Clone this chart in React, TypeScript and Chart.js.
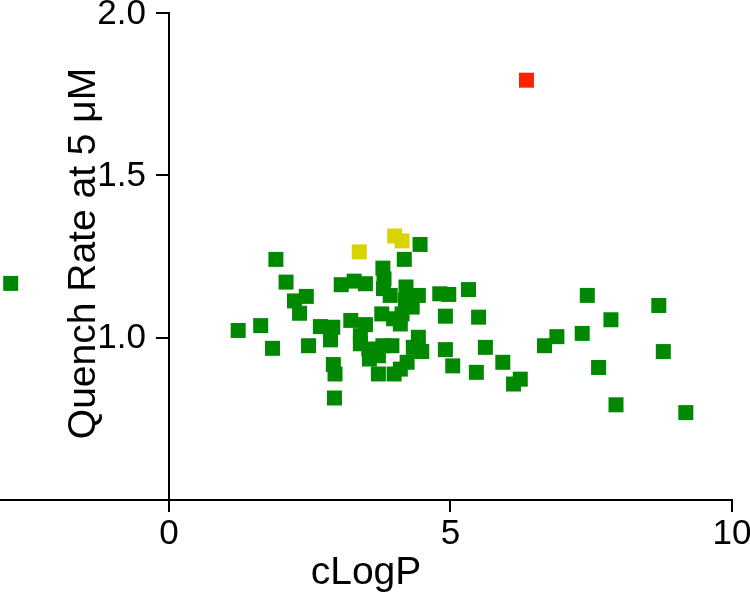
import React, { useEffect, useRef } from "react";
import { Chart, registerables } from "chart.js";

Chart.register(...registerables);

const greenX = [-2.81, 1.23, 1.63, 1.84, 1.9, 2.08, 2.23, 2.32, 2.44, 2.48, 2.69, 2.87, 2.91, 2.92, 2.95, 2.94, 3.06, 3.29, 3.49, 3.23, 3.49, 3.4, 3.4, 3.55, 3.56, 3.72, 3.8, 3.96, 3.72, 4.0, 4.11, 4.23, 4.43, 4.34, 4.49, 3.78, 3.8, 3.82, 3.81, 3.93, 3.99, 4.11, 4.14, 4.21, 4.2, 4.32, 4.43, 4.46, 4.18, 4.81, 4.97, 5.32, 4.91, 5.5, 4.91, 5.62, 5.04, 5.46, 5.93, 6.24, 6.12, 6.67, 6.89, 7.34, 7.43, 7.85, 7.63, 7.94, 8.7, 8.78, 9.18];
const greenY = [1.167, 1.022, 1.037, 0.967, 1.241, 1.171, 1.113, 1.075, 1.127, 0.975, 1.034, 0.993, 1.032, 0.917, 0.888, 0.814, 1.163, 1.174, 1.166, 1.053, 1.04, 1.006, 0.981, 0.965, 0.934, 0.944, 0.975, 0.975, 0.888, 0.888, 0.903, 0.924, 1.001, 0.97, 0.957, 1.073, 1.214, 1.181, 1.151, 1.13, 1.058, 1.042, 1.073, 1.156, 1.114, 1.094, 1.13, 1.287, 1.241, 1.135, 1.133, 1.148, 1.066, 1.063, 0.963, 0.97, 0.913, 0.893, 0.924, 0.872, 0.857, 0.975, 1.003, 1.013, 1.13, 1.055, 0.908, 0.793, 1.099, 0.957, 0.769];
const yellowX = [3.38, 4.01, 4.14];
const yellowY = [1.264, 1.313, 1.298];
const redX = [6.35];
const redY = [1.793];

const xTicks = [0, 5, 10];
const yTicks = [0.5, 1.0, 1.5, 2.0];
const yTickLabels = ["", "1.0", "1.5", "2.0"];
const xTitle = "cLogP";
const yTitle = "Quench Rate at 5 μM";

const FONT = "'Liberation Sans', Arial, sans-serif";

const toPts = (xs: number[], ys: number[]) => xs.map((x, i) => ({ x, y: ys[i] }));

const yAxisTextPlugin = {
  id: "yAxisTextPlugin",
  afterDraw(chart: any) {
    const ctx = chart.ctx;
    const area = chart.chartArea;
    const ys = chart.scales.y;
    const xs = chart.scales.x;
    const axisX = xs.getPixelForValue(0);
    ctx.save();
    ctx.fillStyle = "#000";
    ctx.font = `35px ${FONT}`;
    ctx.textAlign = "right";
    ctx.textBaseline = "middle";
    yTicks.forEach((v, i) => {
      if (yTickLabels[i]) ctx.fillText(yTickLabels[i], axisX - 23, ys.getPixelForValue(v) + 1);
    });
    ctx.font = `39px ${FONT}`;
    ctx.textAlign = "center";
    ctx.textBaseline = "alphabetic";
    ctx.translate(95, (area.top + area.bottom) / 2 - 3);
    ctx.rotate(-Math.PI / 2);
    ctx.fillText(yTitle, 0, 0);
    ctx.restore();
  },
};

export default function App() {
  const ref = useRef<HTMLCanvasElement>(null);
  useEffect(() => {
    document.body.style.margin = "0";
    const ds = (xs: number[], ys: number[], color: string) => ({
      data: toPts(xs, ys),
      backgroundColor: color,
      borderWidth: 0,
      pointStyle: "rect",
      pointRadius: 10.6,
      pointHoverRadius: 10.6,
    });
    const chart = new Chart(ref.current!, {
      type: "scatter",
      data: {
        datasets: [
          ds(greenX, greenY, "#008800"),
          ds(yellowX, yellowY, "#D8D400"),
          ds(redX, redY, "#FF2200"),
        ] as any,
      },
      plugins: [yAxisTextPlugin],
      options: {
        responsive: false,
        animation: false,
        layout: { autoPadding: false, padding: { left: 0, right: 18, top: 13, bottom: 4 } },
        plugins: { legend: { display: false }, tooltip: { enabled: false } },
        scales: {
          x: {
            type: "linear",
            position: "bottom",
            min: -3,
            max: 10,
            afterBuildTicks: (s: any) => {
              s.ticks = xTicks.map((v) => ({ value: v }));
            },
            afterFit: (s: any) => {
              s.paddingLeft = 0;
              s.paddingRight = 0;
            },
            grid: { drawOnChartArea: false, drawTicks: true, tickLength: 12, color: "#000", lineWidth: 2 },
            border: { display: true, color: "#000", width: 2 },
            ticks: { color: "#000", font: { family: FONT, size: 35, lineHeight: 0.971 }, padding: 5, maxRotation: 0, autoSkip: false },
            title: { display: true, text: xTitle, color: "#000", font: { family: FONT, size: 39, lineHeight: 0.9 }, padding: { top: 0, bottom: 0 } },
          },
          y: {
            type: "linear",
            position: { x: 0 } as any,
            min: 0.5,
            max: 2.0,
            afterBuildTicks: (s: any) => {
              s.ticks = yTicks.map((v) => ({ value: v }));
            },
            afterFit: (s: any) => {
              s.paddingTop = 0;
              s.paddingBottom = 0;
              s.paddingLeft = 0;
              s.paddingRight = 0;
            },
            grid: { drawOnChartArea: false, drawTicks: true, tickLength: 12, color: "#000", lineWidth: 2 },
            border: { display: true, color: "#000", width: 2 },
            ticks: { display: false },
          },
        },
      },
    } as any);
    return () => chart.destroy();
  }, []);
  return <canvas ref={ref} width={750} height={595} />;
}
